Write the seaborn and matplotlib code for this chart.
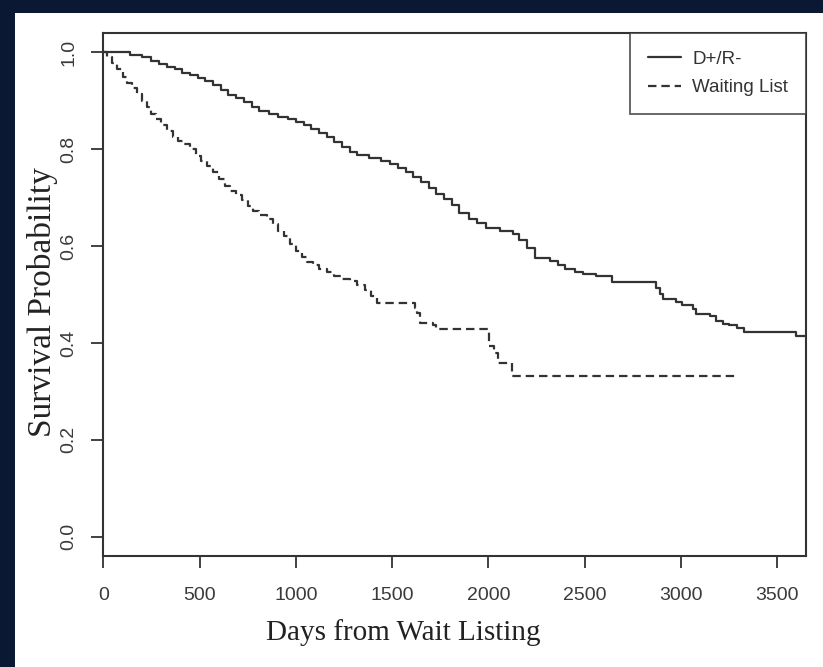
import numpy as np
import pandas as pd
import matplotlib
matplotlib.use('Agg')
import matplotlib.pyplot as plt
from matplotlib.patches import Rectangle
from matplotlib.lines import Line2D
import seaborn as sns

# Kaplan-Meier style curves
dr_days = [0, 140, 200, 250, 290, 330, 370, 410, 450, 490, 530, 570, 610, 650, 690,
           730, 770, 810, 860, 910, 960, 1000, 1040, 1080, 1120, 1160, 1200, 1240,
           1280, 1320, 1380, 1440, 1490, 1530, 1570, 1610, 1650, 1690, 1730, 1770,
           1810, 1850, 1900, 1940, 1990, 2060, 2130, 2160, 2200, 2240, 2320, 2360,
           2400, 2450, 2490, 2560, 2640, 2870, 2890, 2905, 2975, 3005, 3065, 3080,
           3150, 3185, 3220, 3250, 3290, 3330, 3600, 3650]
dr_surv = [1.0, 0.995, 0.99, 0.983, 0.977, 0.97, 0.965, 0.958, 0.954, 0.948, 0.94,
           0.932, 0.922, 0.912, 0.905, 0.897, 0.888, 0.878, 0.872, 0.867, 0.863,
           0.857, 0.85, 0.842, 0.834, 0.825, 0.815, 0.805, 0.795, 0.788, 0.782,
           0.776, 0.77, 0.762, 0.752, 0.742, 0.732, 0.72, 0.708, 0.697, 0.685,
           0.668, 0.655, 0.648, 0.638, 0.632, 0.624, 0.612, 0.595, 0.576, 0.569,
           0.56, 0.552, 0.547, 0.543, 0.538, 0.525, 0.514, 0.502, 0.491, 0.484,
           0.479, 0.47, 0.459, 0.455, 0.445, 0.44, 0.436, 0.43, 0.423, 0.415, 0.415]

wl_days = [0, 20, 45, 70, 100, 125, 150, 175, 200, 225, 250, 275, 300, 330, 360,
           390, 420, 450, 480, 510, 540, 570, 600, 630, 660, 690, 720, 750, 780,
           810, 850, 880, 910, 940, 970, 1000, 1030, 1060, 1090, 1120, 1160, 1200,
           1240, 1280, 1320, 1360, 1390, 1420, 1620, 1632, 1645, 1715, 1730, 2005,
           2030, 2050, 2125, 3290]
wl_surv = [1.0, 0.99, 0.978, 0.965, 0.95, 0.937, 0.926, 0.915, 0.9, 0.888, 0.873,
           0.862, 0.85, 0.838, 0.826, 0.818, 0.81, 0.8, 0.787, 0.776, 0.765, 0.752,
           0.738, 0.725, 0.713, 0.705, 0.695, 0.683, 0.672, 0.665, 0.655, 0.645,
           0.632, 0.62, 0.605, 0.59, 0.578, 0.568, 0.56, 0.553, 0.546, 0.539,
           0.533, 0.527, 0.52, 0.51, 0.497, 0.483, 0.473, 0.462, 0.442, 0.438,
           0.428, 0.393, 0.38, 0.359, 0.332, 0.332]

groups = ['D+/R-', 'Waiting List']
x_ticks = [0, 500, 1000, 1500, 2000, 2500, 3000, 3500]
y_ticks = [0.0, 0.2, 0.4, 0.6, 0.8, 1.0]

df = pd.concat([
    pd.DataFrame({'days': dr_days, 'surv': dr_surv, 'group': groups[0]}),
    pd.DataFrame({'days': wl_days, 'surv': wl_surv, 'group': groups[1]}),
])

sns.set_style('ticks')
plt.rcParams['font.family'] = ['Liberation Sans', 'DejaVu Sans']

ink = '#333333'
dash = (3.8, 2.2)
fig = plt.figure(figsize=(8.23, 6.67), dpi=100)
fig.patch.set_facecolor('#0b1833')
# white slide panel
fig.patches.append(Rectangle((15 / 823, 0), 1, 1 - 13 / 667, transform=fig.transFigure,
                             facecolor='white', edgecolor='none', zorder=-10))

ax = fig.add_axes([103.3 / 823, 1 - 556 / 667, (806 - 103.3) / 823, (556 - 33) / 667])
ax.set_facecolor('white')

sns.lineplot(data=df, x='days', y='surv', style='group', style_order=groups,
             dashes={groups[0]: '', groups[1]: dash}, color=ink, linewidth=1.6,
             drawstyle='steps-post', estimator=None, sort=False, legend=False, ax=ax)

ax.set_xlim(0, 3650)
ax.set_ylim(-0.04, 1.04)
ax.set_xticks(x_ticks)
ax.set_yticks(y_ticks)
ax.set_yticklabels(['%.1f' % v for v in y_ticks], rotation=90, va='center')
ax.tick_params(axis='both', length=8.5, width=1.3, color=ink, labelcolor='#3a3a3a',
               labelsize=14, direction='out')
ax.tick_params(axis='x', pad=14)
ax.tick_params(axis='y', pad=10)
for s in ax.spines.values():
    s.set_color(ink)
    s.set_linewidth(1.5)

ax.set_xlabel('Days from Wait Listing', family=['Liberation Serif'], fontsize=21,
              color='#222222', labelpad=11)
ax.set_ylabel('Survival Probability', family=['Liberation Serif'], fontsize=24,
              color='#222222', labelpad=2)
ax.xaxis.label.set_x(0.4265)
ax.yaxis.label.set_y(0.485)

handles = [Line2D([], [], color=ink, lw=1.6),
           Line2D([], [], color=ink, lw=1.6, dashes=dash)]
leg = ax.legend(handles, groups, loc='upper right', borderaxespad=0, fontsize=13.5,
                frameon=True, fancybox=False, handlelength=1.75, borderpad=0.95,
                labelspacing=0.6, handletextpad=0.6)
leg.get_frame().set_edgecolor(ink)
leg.get_frame().set_linewidth(1.3)
for t in leg.get_texts():
    t.set_color(ink)

fig.savefig('out.png', dpi=100, facecolor=fig.get_facecolor())
